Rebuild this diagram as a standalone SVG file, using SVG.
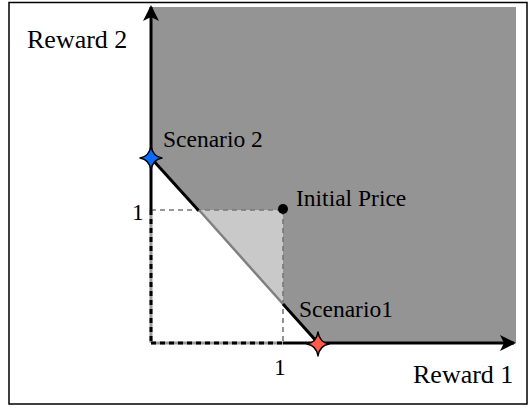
<svg xmlns="http://www.w3.org/2000/svg" width="529" height="409" viewBox="0 0 529 409">
<style>
  .big { font-size: 26px; }
  .mid { font-size: 23.5px; }
  .axis { stroke: #000; stroke-width: 3; fill: none; }
  .dash { stroke: #777; stroke-width: 1.6; stroke-dasharray: 5 4; fill: none; }
  .star { stroke: #000; stroke-width: 1.5; stroke-linejoin: round; }
</style>
<defs>
  <marker id="arr" viewBox="0 0 16 18" refX="14" refY="9" markerWidth="16" markerHeight="18" markerUnits="userSpaceOnUse" orient="auto">
    <path d="M0,1 L16,9 L0,17 L4,9 Z" fill="#000"/>
  </marker>
  <path id="starShape" d="M0,-12 Q1.6,-1.6 11,0 Q1.6,1.6 0,12 Q-1.6,1.6 -11,0 Q-1.6,-1.6 0,-12 Z"/>
</defs>
<rect id="frame" x="9" y="2.5" width="518" height="401.5" fill="#fff" stroke="#000" stroke-width="1.5"/>
<g id="regions">
  <polygon id="feasible" points="152,7 516,7 516,343 318,343 283,304 283,210 199,210 151,158" fill="#949494"/>
  <polygon id="triangle" points="199,210 283,210 283,304" fill="#c9c9c9"/>
</g>
<g id="connectors">
  <line class="dash" x1="151" y1="210" x2="283" y2="210"/>
  <line class="dash" x1="283" y1="210" x2="283" y2="343"/>
  <line x1="151" y1="210" x2="151" y2="343" stroke="#999" stroke-width="3"/>
  <line x1="151" y1="210" x2="151" y2="343" stroke="#000" stroke-width="3" stroke-dasharray="5 4"/>
  <line x1="151" y1="343" x2="283" y2="343" stroke="#999" stroke-width="3"/>
  <line x1="151" y1="343" x2="283" y2="343" stroke="#000" stroke-width="3" stroke-dasharray="5 4"/>
  <line class="axis" x1="151" y1="210" x2="151" y2="7" marker-end="url(#arr)"/>
  <line class="axis" x1="283" y1="343" x2="514" y2="343" marker-end="url(#arr)"/>
  <line x1="151" y1="158" x2="199" y2="211" stroke="#000" stroke-width="3"/>
  <line x1="199" y1="210" x2="283" y2="304" stroke="#808080" stroke-width="2.5"/>
  <line x1="283" y1="304" x2="318" y2="343" stroke="#000" stroke-width="3"/>
</g>
<g font-family="'Liberation Serif', 'DejaVu Serif', 'Times New Roman', serif" fill="#000">
<g id="initial-price">
  <circle cx="283" cy="209" r="5" fill="#000"/>
  <text class="mid" x="296" y="206">Initial Price</text>
</g>
<g id="scenario2">
  <use href="#starShape" x="151" y="158" class="star" fill="#0a6cff"/>
  <text class="mid" x="163" y="147">Scenario 2</text>
</g>
<g id="scenario1">
  <use href="#starShape" x="318" y="344" class="star" fill="#ff5a4a"/>
  <text class="mid" x="299" y="317">Scenario1</text>
</g>
<g id="labels">
  <text class="big" x="27" y="48">Reward 2</text>
  <text class="big" x="413" y="383">Reward 1</text>
  <text class="mid" x="132" y="220">1</text>
  <text class="mid" x="274" y="375">1</text>
</g>
</g>
</svg>
